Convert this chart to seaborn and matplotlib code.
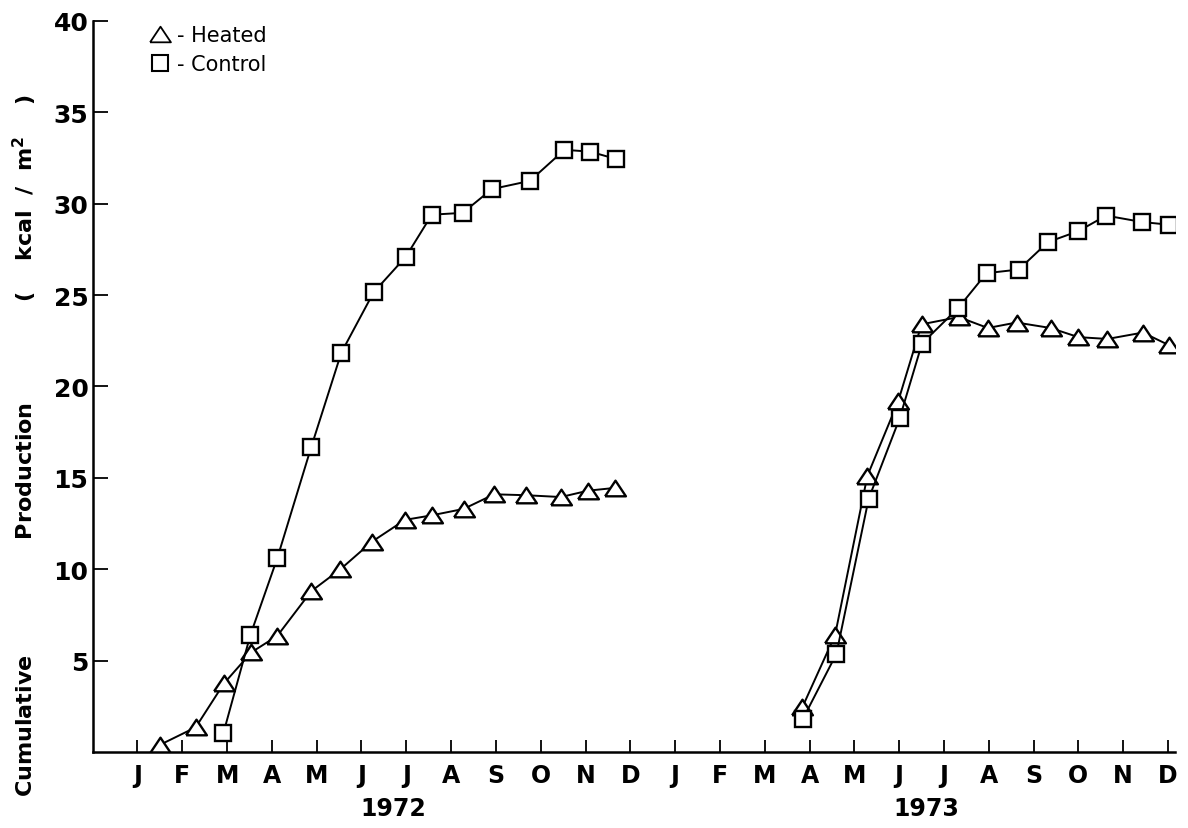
#
# Cumulative production, heated vs control, 1972-1973
#

import matplotlib
matplotlib.use('Agg')
import matplotlib.pyplot as plt
from matplotlib.lines import Line2D
from matplotlib.transforms import blended_transform_factory
import seaborn as sns

# month positions: 1 = Jan 1972 ... 24 = Dec 1973
months = ['J', 'F', 'M', 'A', 'M', 'J', 'J', 'A', 'S', 'O', 'N', 'D'] * 2
years = ['1972', '1973']
year_pos = [6.7, 18.6]

heated72_x = [1.51, 2.30, 2.93, 3.54, 4.12, 4.88, 5.53, 6.23, 6.97, 7.57, 8.28, 8.96, 9.67, 10.45, 11.06, 11.66]
heated72_y = [0.4, 1.35, 3.75, 5.45, 6.35, 8.8, 10.0, 11.5, 12.7, 12.95, 13.3, 14.1, 14.05, 13.95, 14.3, 14.45]
control72_x = [2.92, 3.52, 4.12, 4.88, 5.55, 6.27, 6.99, 7.57, 8.26, 8.91, 9.76, 10.53, 11.10, 11.68]
control72_y = [1.05, 6.4, 10.6, 16.7, 21.85, 25.15, 27.1, 29.4, 29.5, 30.8, 31.25, 32.95, 32.85, 32.45]

heated73_x = [15.84, 16.57, 17.29, 17.98, 18.50, 19.33, 19.98, 20.62, 21.38, 22.00, 22.65, 23.44, 24.03]
heated73_y = [2.45, 6.4, 15.1, 19.2, 23.4, 23.8, 23.2, 23.5, 23.2, 22.7, 22.6, 22.95, 22.25]
control73_x = [15.85, 16.60, 17.32, 18.01, 18.51, 19.32, 19.95, 20.67, 21.32, 22.00, 22.62, 23.42, 24.03]
control73_y = [1.8, 5.37, 13.86, 18.25, 22.35, 24.3, 26.2, 26.4, 27.9, 28.5, 29.35, 29.0, 28.85]

sns.set_theme(style='white')
plt.rcParams['font.family'] = ['DejaVu Sans']
for key in ['text.color', 'axes.labelcolor', 'xtick.color', 'ytick.color']:
    plt.rcParams[key] = 'black'

# wide, flat open triangle like the original drawing
tri = [(-1, -0.75), (1, -0.75), (0, 0.75), (-1, -0.75)]

fig = plt.figure(figsize=(11.88, 8.29), dpi=100)
ax = fig.add_axes([0.078, 0.0917, 0.9108, 0.8818])

style = dict(color='black', linewidth=1.4, markerfacecolor='white',
             markeredgecolor='black', markeredgewidth=1.7)
for xs, ys in [(heated72_x, heated72_y), (heated73_x, heated73_y)]:
    sns.lineplot(x=xs, y=ys, marker=tri, markersize=15, sort=False,
                 estimator=None, ax=ax, **style)
for xs, ys in [(control72_x, control72_y), (control73_x, control73_y)]:
    sns.lineplot(x=xs, y=ys, marker='s', markersize=11.5, sort=False,
                 estimator=None, ax=ax, **style)

ax.set_xlim(0, 24.15)
ax.set_ylim(0, 40)
ax.set_xticks(range(1, 25))
ax.set_xticklabels(months, fontsize=17, fontweight='bold')
ax.set_yticks(range(5, 41, 5))
ax.set_yticklabels([str(v) for v in range(5, 41, 5)], fontsize=18, fontweight='bold')
ax.tick_params(axis='x', direction='in', length=9, width=1.3, pad=8, bottom=True)
ax.tick_params(axis='y', direction='in', length=11, width=1.3, pad=3, left=True)

for side in ['top', 'right']:
    ax.spines[side].set_visible(False)
for side in ['left', 'bottom']:
    ax.spines[side].set_linewidth(1.8)
    ax.spines[side].set_color('black')

trans = blended_transform_factory(ax.transData, ax.transAxes)
for yr, xp in zip(years, year_pos):
    ax.text(xp, -0.076, yr, transform=trans, ha='center', va='center',
            fontsize=17, fontweight='bold')

ylab = 'Cumulative' + ' ' * 15 + 'Production' + ' ' * 13 + '(    kcal  /  m$^\\mathbf{2}$    )'
ax.set_ylabel(ylab, fontsize=16, fontweight='bold')
ax.yaxis.set_label_coords(-0.05, 0.42)

handles = [Line2D([], [], ls='none', marker=tri, markersize=15, markerfacecolor='white',
                  markeredgecolor='black', markeredgewidth=1.3),
           Line2D([], [], ls='none', marker='s', markersize=12, markerfacecolor='white',
                  markeredgecolor='black', markeredgewidth=1.5)]
ax.legend(handles, ['- Heated', '- Control'], loc='upper left', frameon=False,
          bbox_to_anchor=(0.035, 1.02), handlelength=1.0, handletextpad=0.35,
          labelspacing=0.45, prop={'size': 15})

plt.savefig('out.png', dpi=100)
